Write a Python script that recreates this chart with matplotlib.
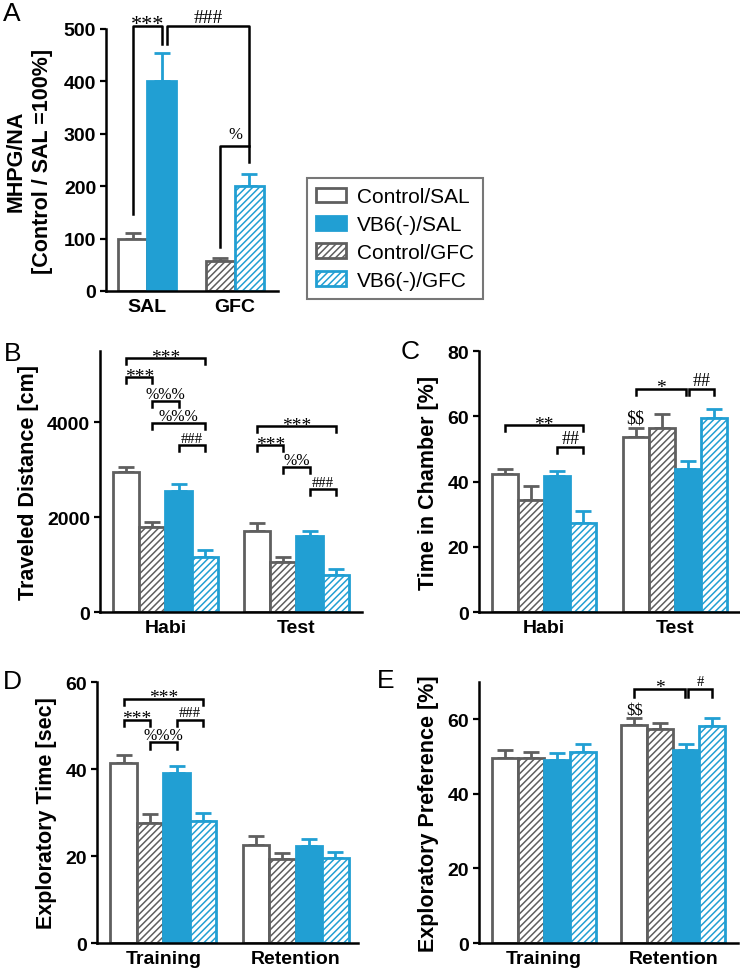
import matplotlib
matplotlib.use('Agg')
import matplotlib.pyplot as plt
from matplotlib.patches import Patch

plt.rcParams['font.family'] = 'Liberation Sans'
plt.rcParams['hatch.linewidth'] = 1.1

BLUE = '#219fd3'
GREY = '#5f5f5f'

# ---- data ----
a_groups = ['SAL', 'GFC']
a_names = ['Control/SAL', 'VB6(-)/SAL', 'Control/GFC', 'VB6(-)/GFC']
a_means = [100, 400, 58, 200]
a_errs = [10, 55, 5, 23]

b_groups = ['Habi', 'Test']
b_means = [[2947, 1790, 2547, 1158], [1705, 1053, 1600, 779]]
b_errs = [[103, 105, 148, 147], [168, 105, 105, 126]]

c_groups = ['Habi', 'Test']
c_means = [[42.2, 34.3, 41.7, 27.4], [53.7, 56.3, 43.9, 59.6]]
c_errs = [[1.8, 4.3, 1.5, 3.6], [2.8, 4.5, 2.4, 2.7]]

d_groups = ['Training', 'Retention']
d_means = [[41.4, 27.6, 39.1, 28.0], [22.6, 19.3, 22.3, 19.5]]
d_errs = [[1.9, 2.1, 1.7, 1.9], [1.9, 1.4, 1.6, 1.5]]

e_groups = ['Training', 'Retention']
e_means = [[49.6, 49.6, 49.1, 51.2], [58.4, 57.5, 51.9, 58.2]]
e_errs = [[2.1, 1.6, 1.9, 2.2], [2.0, 1.6, 1.4, 2.2]]

# order of bars inside each group for panels B-E
order4 = ['Control/SAL', 'Control/GFC', 'VB6(-)/SAL', 'VB6(-)/GFC']
offsets = [-0.3, -0.1, 0.1, 0.3]

styles = {
    'Control/SAL': ('white', GREY, None),
    'VB6(-)/SAL': (BLUE, BLUE, None),
    'Control/GFC': ('white', GREY, '/////'),
    'VB6(-)/GFC': ('white', BLUE, '/////'),
}


def draw_bar(ax, x, m, e, name, width):
    fc, ec, h = styles[name]
    ax.bar(x, m, width, color=fc, edgecolor=ec, hatch=h, linewidth=2, zorder=2)
    ax.errorbar(x, m, yerr=[[0], [e]], fmt='none', ecolor=ec, elinewidth=2,
                capsize=5.5, capthick=2, zorder=1)


def note(ax, text, xy, dy, fs):
    ax.annotate(text, xy, xytext=(0, dy), textcoords='offset points', ha='center',
                va='baseline', fontsize=fs, family='Liberation Serif',
                annotation_clip=False, parse_math=False)


def bracket(ax, x1, x2, y, text, leg, fs=11.5):
    ax.plot([x1, x1, x2, x2], [y - leg, y, y, y - leg], color='black', lw=1.8,
            clip_on=False, solid_joinstyle='miter', zorder=3)
    if text.startswith('*'):
        note(ax, text, ((x1 + x2) / 2, y), -2.5, 14)
    else:
        note(ax, text, ((x1 + x2) / 2, y), 2.5, fs)


def style_axes(ax, top, ticks, ylabel, groups, xlim):
    ax.set_ylim(0, top)
    ax.set_yticks(ticks)
    ax.set_xlim(*xlim)
    ax.set_xticks(range(len(groups)))
    ax.set_xticklabels(groups)
    for s in ['top', 'right']:
        ax.spines[s].set_visible(False)
    for s in ['left', 'bottom']:
        ax.spines[s].set_linewidth(1.8)
    ax.tick_params(axis='y', direction='out', length=4, width=1.6, labelsize=14, pad=3)
    ax.tick_params(axis='x', length=0, labelsize=14, pad=5)
    for t in ax.get_xticklabels() + ax.get_yticklabels():
        t.set_fontweight('bold')
    ax.set_ylabel(ylabel, fontsize=15.5, fontweight='bold', labelpad=6)


def grouped_panel(ax, means, errs):
    for g in range(len(means)):
        for i, name in enumerate(order4):
            draw_bar(ax, g + offsets[i], means[g][i], errs[g][i], name, 0.2)


def bx(g, i, nudge=0.0):
    return g + offsets[i] + nudge


fig = plt.figure(figsize=(7.4, 9.7), dpi=100)

# ---------------- A ----------------
axA = fig.add_axes([0.1432, 0.699, 0.2324, 0.2701])
a_x = [-0.165, 0.165, 0.835, 1.165]
for x, m, e, n in zip(a_x, a_means, a_errs, a_names):
    draw_bar(axA, x, m, e, n, 0.33)
style_axes(axA, 500, range(0, 501, 100), 'MHPG/NA\n[Control / SAL =100%]',
           a_groups, (-0.47, 1.49))
axA.yaxis.label.set_linespacing(1.3)
axA.yaxis.labelpad = 8
axA.plot([a_x[0], a_x[0], a_x[1], a_x[1]], [147, 506, 506, 471], color='black',
         lw=1.8, clip_on=False, zorder=3)
axA.plot([a_x[1] + 0.055, a_x[1] + 0.055, a_x[3], a_x[3]], [471, 506, 506, 246],
         color='black', lw=1.8, clip_on=False, zorder=3)
axA.plot([a_x[2], a_x[2], a_x[3]], [84, 276, 276], color='black', lw=1.8,
         clip_on=False, zorder=3)
note(axA, '***', (0, 506), -2, 16)
note(axA, '###', ((a_x[1] + 0.055 + a_x[3]) / 2, 506), 3, 14)
note(axA, '%', ((a_x[2] + a_x[3]) / 2, 276), 6, 12)

# legend
handles = [Patch(facecolor=styles[n][0], edgecolor=styles[n][1], hatch=styles[n][2],
                 linewidth=2) for n in a_names]
leg = fig.legend(handles, a_names, loc='upper left', bbox_to_anchor=(0.415, 0.8155),
                 fontsize=15, frameon=True, fancybox=False, edgecolor='#555555',
                 handlelength=1.4, handleheight=0.7, labelspacing=0.42,
                 handletextpad=0.55, borderpad=0.45, borderaxespad=0)
leg.get_frame().set_linewidth(1.5)

# ---------------- B ----------------
axB = fig.add_axes([0.1351, 0.368, 0.354, 0.269])
grouped_panel(axB, b_means, b_errs)
style_axes(axB, 5500, [0, 2000, 4000], 'Traveled Distance [cm]', b_groups, (-0.5, 1.5))
legB = 120
bracket(axB, bx(0, 0), bx(0, 3), 5350, '***', legB)
bracket(axB, bx(0, 0), bx(0, 1), 4947, '***', legB)
bracket(axB, bx(0, 1), bx(0, 2), 4442, '%%%', legB)
bracket(axB, bx(0, 1), bx(0, 3), 3979, '%%%', legB)
bracket(axB, bx(0, 2), bx(0, 3), 3516, '###', legB, fs=10.5)
bracket(axB, bx(1, 0), bx(1, 3), 3916, '***', legB)
bracket(axB, bx(1, 0), bx(1, 1), 3516, '***', legB)
bracket(axB, bx(1, 1), bx(1, 2), 3052, '%%', legB)
bracket(axB, bx(1, 2), bx(1, 3), 2589, '###', legB, fs=10.5)

# ---------------- C ----------------
axC = fig.add_axes([0.6473, 0.368, 0.3527, 0.269])
grouped_panel(axC, c_means, c_errs)
style_axes(axC, 80, range(0, 81, 20), 'Time in Chamber [%]', c_groups, (-0.5, 1.5))
legC = 1.9
bracket(axC, bx(0, 0), bx(0, 3), 57.3, '**', legC)
bracket(axC, bx(0, 2), bx(0, 3), 50.7, '##', legC, fs=13)
bracket(axC, bx(1, 0), bx(1, 2, -0.012), 68.4, '*', legC)
bracket(axC, bx(1, 2, 0.012), bx(1, 3), 68.4, '##', legC, fs=13)
note(axC, '$$', (bx(1, 0), c_means[1][0] + c_errs[1][0]), 4, 13)

# ---------------- D ----------------
axD = fig.add_axes([0.1311, 0.0268, 0.3527, 0.269])
grouped_panel(axD, d_means, d_errs)
style_axes(axD, 60, [0, 20, 40, 60], 'Exploratory Time [sec]', d_groups, (-0.5, 1.47))
legD = 1.5
bracket(axD, bx(0, 0), bx(0, 3), 56.2, '***', legD)
bracket(axD, bx(0, 0), bx(0, 1), 51.3, '***', legD)
bracket(axD, bx(0, 2), bx(0, 3), 51.3, '###', legD, fs=10.5)
bracket(axD, bx(0, 1), bx(0, 2), 46.2, '%%%', legD)

# ---------------- E ----------------
axE = fig.add_axes([0.6473, 0.0268, 0.35, 0.269])
grouped_panel(axE, e_means, e_errs)
style_axes(axE, 70, [0, 20, 40, 60], 'Exploratory Preference [%]', e_groups, (-0.5, 1.5))
legE = 2.2
bracket(axE, bx(1, 0), bx(1, 2, -0.012), 68.2, '*', legE)
bracket(axE, bx(1, 2, 0.012), bx(1, 3), 68.2, '#', legE, fs=10.5)
note(axE, '$$', (bx(1, 0), e_means[1][0] + e_errs[1][0]), 3, 12)

# panel letters
for letter, (px, py) in zip('ABCDE', [(3, 2), (4, 342), (401, 340), (3, 670), (377, 669)]):
    fig.text(px / 740, 1 - py / 970, letter, fontsize=19, ha='left', va='top')

fig.savefig('out.png', dpi=100)
